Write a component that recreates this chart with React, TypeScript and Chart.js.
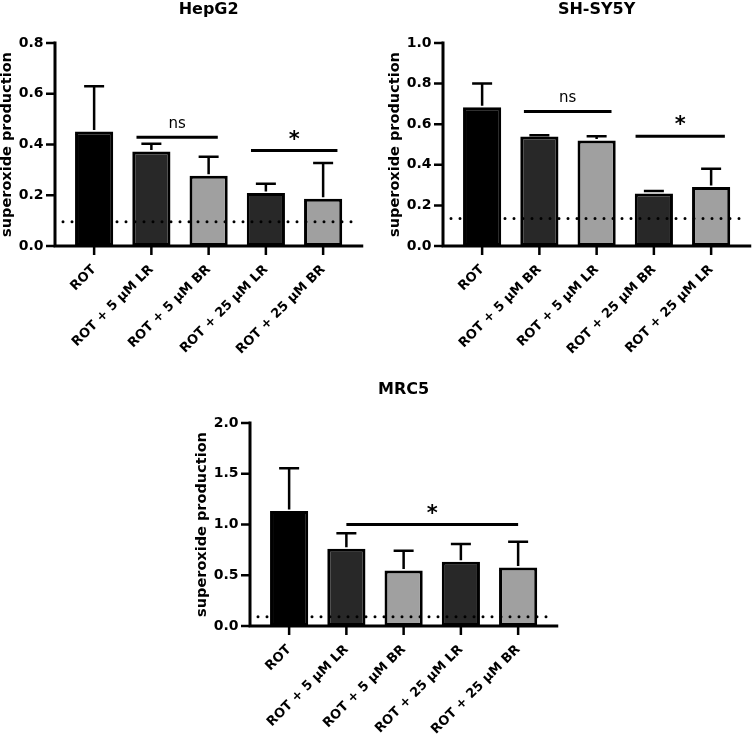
import React, { useEffect, useRef } from "react";
import { Chart, registerables } from "chart.js";

Chart.register(...registerables);

// ---------- data ----------
const hepLabels = ["ROT", "ROT + 5 μM LR", "ROT + 5 μM BR", "ROT + 25 μM LR", "ROT + 25 μM BR"];
const hepMeans = [0.451, 0.372, 0.277, 0.209, 0.186];
const hepErrors = [0.179, 0.031, 0.075, 0.036, 0.141];
const hepBaseline = 0.096;
const hepYMax = 0.8;
const hepYStep = 0.2;
const hepSigStart = [0.74, 2.74];
const hepSigEnd = [2.16, 4.25];
const hepSigLevel = [0.429, 0.376];
const hepSigText = ["ns", "*"];

const shLabels = ["ROT", "ROT + 5 μM BR", "ROT + 5 μM LR", "ROT + 25 μM BR", "ROT + 25 μM LR"];
const shMeans = [0.684, 0.54, 0.52, 0.259, 0.291];
const shErrors = [0.116, 0.006, 0.021, 0.012, 0.09];
const shBaseline = 0.136;
const shYMax = 1.0;
const shYStep = 0.2;
const shSigStart = [0.73, 2.68];
const shSigEnd = [2.26, 4.24];
const shSigLevel = [0.663, 0.541];
const shSigText = ["ns", "*"];

const mrcLabels = ["ROT", "ROT + 5 μM LR", "ROT + 5 μM BR", "ROT + 25 μM LR", "ROT + 25 μM BR"];
const mrcMeans = [1.132, 0.76, 0.548, 0.633, 0.577];
const mrcErrors = [0.421, 0.154, 0.193, 0.176, 0.252];
const mrcBaseline = 0.092;
const mrcYMax = 2.0;
const mrcYStep = 0.5;
const mrcSigStart = [1];
const mrcSigEnd = [4];
const mrcSigLevel = [1.0];
const mrcSigText = ["*"];

const barColors = ["#000000", "#282828", "#a0a0a0", "#282828", "#a0a0a0"];
const yTitle = "superoxide production";

// ---------- layout constants ----------
const FONT = "'DejaVu Sans', sans-serif";
const AREA_LEFT = 65.5;
const AREA_TOP = 43;
const AREA_BOTTOM = 246;
const CAT_W = 57.25;

type PanelProps = {
  title: string;
  labels: string[];
  means: number[];
  errors: number[];
  baseline: number;
  yMax: number;
  yStep: number;
  sigStart: number[];
  sigEnd: number[];
  sigLevel: number[];
  sigText: string[];
  left: number;
  top: number;
  width: number;
  height: number;
};

function Panel(p: PanelProps) {
  const ref = useRef<HTMLCanvasElement | null>(null);
  useEffect(() => {
    const canvas = ref.current;
    if (!canvas) return;
    const areaRight = AREA_LEFT + CAT_W * p.labels.length;

    const decor = {
      id: "decor",
      afterDatasetsDraw(chart: any) {
        const ctx = chart.ctx;
        const xs = chart.scales.x;
        const ys = chart.scales.y;
        const ca = chart.chartArea;
        const axisX = ca.left - 10.5;
        const y0 = ys.getPixelForValue(0);
        const x0 = xs.getPixelForValue(0);
        const step = xs.getPixelForValue(1) - x0;
        const xAt = (v: number) => x0 + v * step;
        ctx.save();
        ctx.strokeStyle = "#000";
        ctx.fillStyle = "#000";

        // error bars (upper only)
        ctx.lineWidth = 2.5;
        ctx.lineCap = "butt";
        p.means.forEach((m, i) => {
          const px = xs.getPixelForValue(i);
          const yb = ys.getPixelForValue(m);
          const yt = ys.getPixelForValue(m + p.errors[i]);
          ctx.beginPath();
          ctx.moveTo(px, yb - 1.5);
          ctx.lineTo(px, yt);
          ctx.moveTo(px - 10, yt);
          ctx.lineTo(px + 10, yt);
          ctx.stroke();
        });

        // dotted baseline
        ctx.save();
        ctx.lineWidth = 3;
        ctx.lineCap = "round";
        ctx.setLineDash([0, 9]);
        const yd = ys.getPixelForValue(p.baseline);
        ctx.beginPath();
        ctx.moveTo(axisX + 8, yd);
        ctx.lineTo(ca.right + 7, yd);
        ctx.stroke();
        ctx.restore();

        // axes
        ctx.lineWidth = 3;
        ctx.beginPath();
        ctx.moveTo(axisX, ys.getPixelForValue(p.yMax) - 1.5);
        ctx.lineTo(axisX, y0);
        ctx.moveTo(axisX - 1.5, y0);
        ctx.lineTo(ca.right + 11.5, y0);
        ctx.stroke();
        ctx.lineWidth = 2.5;
        ctx.beginPath();
        ys.ticks.forEach((t: any) => {
          const py = ys.getPixelForValue(t.value);
          ctx.moveTo(axisX - 9, py);
          ctx.lineTo(axisX, py);
        });
        p.labels.forEach((_, i) => {
          const px = xs.getPixelForValue(i);
          ctx.moveTo(px, y0);
          ctx.lineTo(px, y0 + 9);
        });
        ctx.stroke();

        // significance
        ctx.lineWidth = 3;
        p.sigLevel.forEach((lv, i) => {
          const py = ys.getPixelForValue(lv);
          const xa = xAt(p.sigStart[i]);
          const xb = xAt(p.sigEnd[i]);
          ctx.beginPath();
          ctx.moveTo(xa, py);
          ctx.lineTo(xb, py);
          ctx.stroke();
          const txt = p.sigText[i];
          ctx.textAlign = "center";
          ctx.textBaseline = "alphabetic";
          if (txt === "*") {
            ctx.font = `bold 21px ${FONT}`;
            ctx.fillText(txt, (xa + xb) / 2, py - 5);
          } else {
            ctx.font = `15px ${FONT}`;
            ctx.fillText(txt, (xa + xb) / 2, py - 9);
          }
        });
        ctx.restore();
      },
    };

    const chart = new Chart(canvas, {
      type: "bar",
      data: {
        labels: p.labels,
        datasets: [
          {
            data: p.means,
            backgroundColor: barColors,
            borderColor: "#000",
            borderWidth: 3,
            borderSkipped: false,
            barPercentage: 0.667,
            categoryPercentage: 1,
          },
        ],
      },
      options: {
        animation: false,
        responsive: false,
        devicePixelRatio: 1,
        layout: { padding: { left: 0, top: 0, bottom: 0, right: p.width - areaRight } },
        plugins: {
          legend: { display: false },
          tooltip: { enabled: false },
          title: {
            display: true,
            text: p.title,
            fullSize: false,
            color: "#000",
            font: { family: FONT, weight: "bold", size: 16, lineHeight: 1.2 },
            padding: { top: 0, bottom: AREA_TOP - 19.2 },
          },
        },
        scales: {
          x: {
            grid: { display: false, drawTicks: false },
            border: { display: false },
            ticks: {
              color: "#000",
              font: { family: FONT, weight: "bold", size: 13 },
              minRotation: 45,
              maxRotation: 45,
              autoSkip: false,
              padding: 16,
            },
            afterFit: (s: any) => {
              s.height = p.height - AREA_BOTTOM;
            },
          },
          y: {
            min: 0,
            max: p.yMax,
            grid: { display: false, drawTicks: false },
            border: { display: false },
            ticks: {
              stepSize: p.yStep,
              color: "#000",
              font: { family: FONT, weight: "bold", size: 14 },
              padding: 22,
              callback: (v: any) => Number(v).toFixed(1),
            },
            title: {
              display: true,
              text: yTitle,
              color: "#000",
              font: { family: FONT, weight: "bold", size: 14.5, lineHeight: 1 },
              padding: { top: 0, bottom: 0 },
            },
            afterFit: (s: any) => {
              s.width = AREA_LEFT;
            },
          },
        },
      },
      plugins: [decor],
    } as any);
    return () => chart.destroy();
  }, []);

  return (
    <canvas
      ref={ref}
      width={p.width}
      height={p.height}
      style={{ position: "absolute", left: p.left, top: p.top, width: p.width, height: p.height }}
    />
  );
}

export default function App() {
  return (
    <div style={{ position: "fixed", left: 0, top: 0, width: 752, height: 734, background: "#fff", overflow: "hidden" }}>
      <Panel
        title="HepG2"
        labels={hepLabels}
        means={hepMeans}
        errors={hepErrors}
        baseline={hepBaseline}
        yMax={hepYMax}
        yStep={hepYStep}
        sigStart={hepSigStart}
        sigEnd={hepSigEnd}
        sigLevel={hepSigLevel}
        sigText={hepSigText}
        left={0}
        top={0}
        width={376}
        height={380}
      />
      <Panel
        title="SH-SY5Y"
        labels={shLabels}
        means={shMeans}
        errors={shErrors}
        baseline={shBaseline}
        yMax={shYMax}
        yStep={shYStep}
        sigStart={shSigStart}
        sigEnd={shSigEnd}
        sigLevel={shSigLevel}
        sigText={shSigText}
        left={388}
        top={0}
        width={364}
        height={380}
      />
      <Panel
        title="MRC5"
        labels={mrcLabels}
        means={mrcMeans}
        errors={mrcErrors}
        baseline={mrcBaseline}
        yMax={mrcYMax}
        yStep={mrcYStep}
        sigStart={mrcSigStart}
        sigEnd={mrcSigEnd}
        sigLevel={mrcSigLevel}
        sigText={mrcSigText}
        left={195}
        top={380}
        width={376}
        height={354}
      />
    </div>
  );
}
